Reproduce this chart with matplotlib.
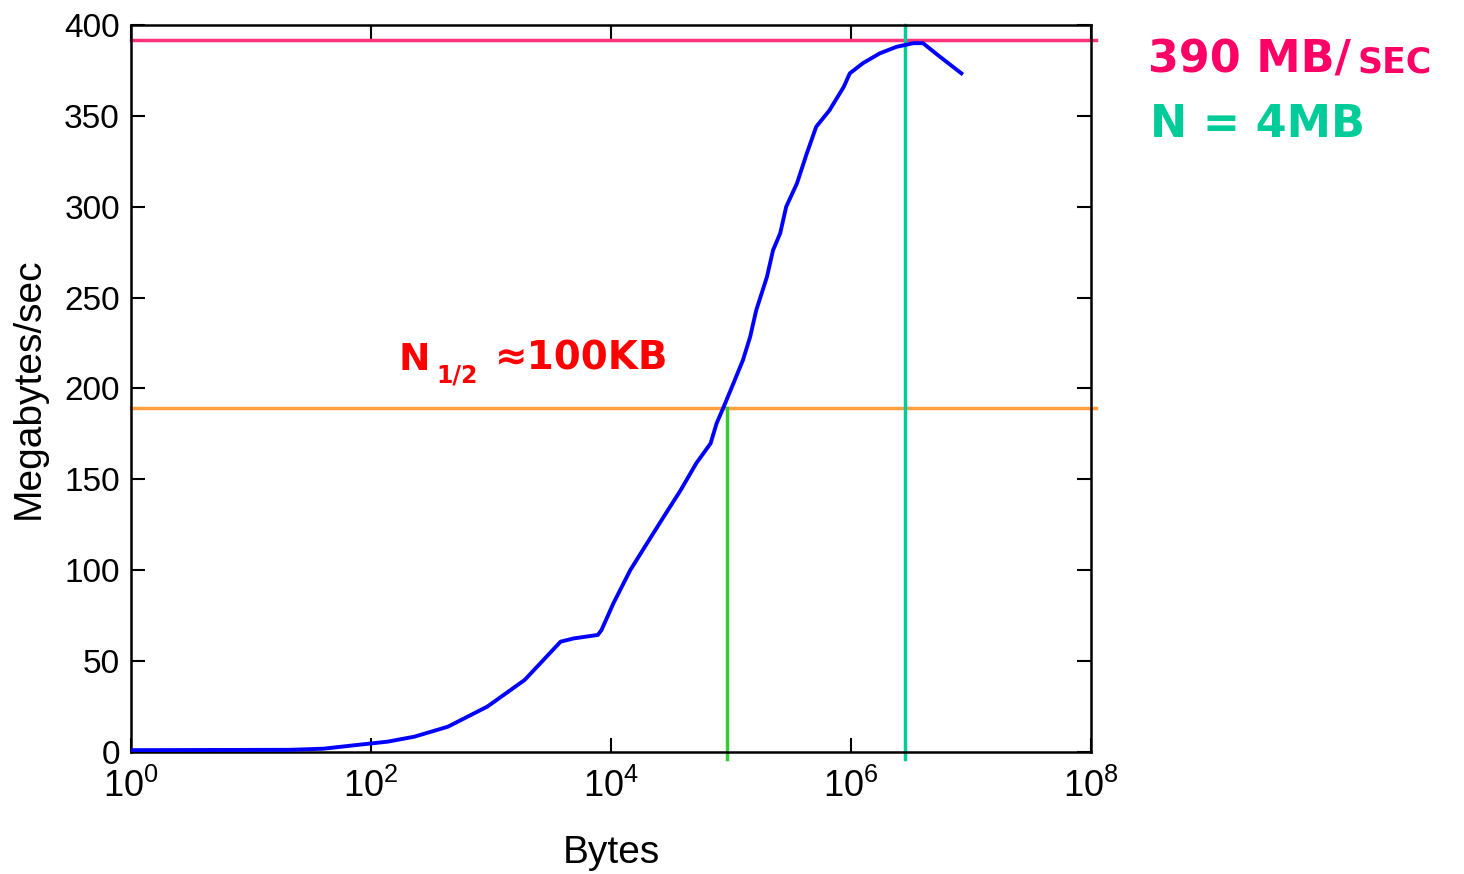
import matplotlib
matplotlib.use("Agg")
import matplotlib.pyplot as plt
from matplotlib.ticker import NullLocator, LogFormatterSciNotation

plt.rcParams['font.family'] = ['Liberation Sans', 'DejaVu Sans']
plt.rcParams['mathtext.fontset'] = 'custom'
plt.rcParams['mathtext.rm'] = 'Liberation Sans'

# message size (bytes) vs bandwidth (MB/s)
sizes = [1, 21, 40, 75, 138, 229, 437, 933, 1905, 3802, 4898, 7762, 8318,
         10471, 14454, 19953, 27542, 38019, 51286, 67608, 75858, 87096,
         104713, 125893, 144544, 162181, 199526, 223872, 257040, 288403,
         354813, 426580, 512861, 660693, 870964, 977237, 1258925, 1737801,
         2398833, 3311311, 3981072, 5495409, 8317638]
mbps = [1, 1.2, 1.8, 3.8, 5.7, 8.4, 13.9, 25, 39.6, 60.7, 62.5, 64.4, 67,
        81.8, 100, 114.8, 129.5, 144, 158.8, 169.8, 180.8, 190,
        202.8, 215.7, 228.5, 243, 261.5, 276, 285.4, 300,
        312.9, 329, 344, 353, 366, 373.4, 379, 384.4,
        388, 390, 390, 382.6, 373.4]
xticks = [1, 1e2, 1e4, 1e6, 1e8]

peak_bw = 391.5
half_bw = 189
n_half = 93000
n_peak = 2.8e6

fig = plt.figure(figsize=(14.64, 8.74), dpi=100)
ax = fig.add_axes([0.0895, 0.1396, 0.6557, 0.8318])

ax.plot(sizes, mbps, color='#0000FF', lw=2.8, zorder=3)

ax.axhline(peak_bw, xmin=0, xmax=1.005, color='#FF3377', lw=2.5, clip_on=False, zorder=2)
ax.axhline(half_bw, xmin=0, xmax=1.005, color='#FFA040', lw=2.5, clip_on=False, zorder=2)
ax.plot([n_half, n_half], [-4, half_bw], color='#33CC33', lw=2.5, clip_on=False, zorder=2)
ax.plot([n_peak, n_peak], [-4, 400], color='#00CC99', lw=2.5, clip_on=False, zorder=2)

ax.set_xscale('log')
ax.set_xlim(1, 1e8)
ax.set_ylim(0, 400)
ax.set_xticks(xticks)
ax.xaxis.set_major_formatter(LogFormatterSciNotation(base=10))
ax.xaxis.set_minor_locator(NullLocator())
ax.set_yticks(range(0, 401, 50))

ax.tick_params(direction='in', length=10, width=1.5, top=True, right=True,
               labelsize=24, pad=8)
ax.tick_params(axis='x', labelsize=26, pad=12)
for s in ax.spines.values():
    s.set_linewidth(1.8)

ax.set_xlabel('Bytes', fontsize=28, labelpad=22)
ax.set_ylabel('Megabytes/sec', fontsize=28)
ax.yaxis.set_label_coords(-0.088, 0.5)

t1 = fig.text(0.7842, 0.9165, '390 MB/', color='#FF0066', fontsize=32,
              fontweight='bold', family='DejaVu Sans')
ax.annotate('SEC', xy=(1, 0), xycoords=t1, xytext=(5, 2),
            textcoords='offset points', color='#FF0066', fontsize=25,
            fontweight='bold', family='DejaVu Sans', va='bottom')
fig.text(0.7855, 0.8432, 'N = 4MB', color='#00CC99', fontsize=32,
         fontweight='bold', family='DejaVu Sans')

fig.text(0.2719, 0.5767, 'N', color='#FF0000', fontsize=27,
         fontweight='bold', family='DejaVu Sans')
fig.text(0.2978, 0.5618, '1/2', color='#FF0000', fontsize=17,
         fontweight='bold', family='DejaVu Sans')
fig.text(0.3381, 0.5767, '\u2248100KB', color='#FF0000', fontsize=28,
         fontweight='bold', family='DejaVu Sans')

fig.savefig('out.png', dpi=100)
